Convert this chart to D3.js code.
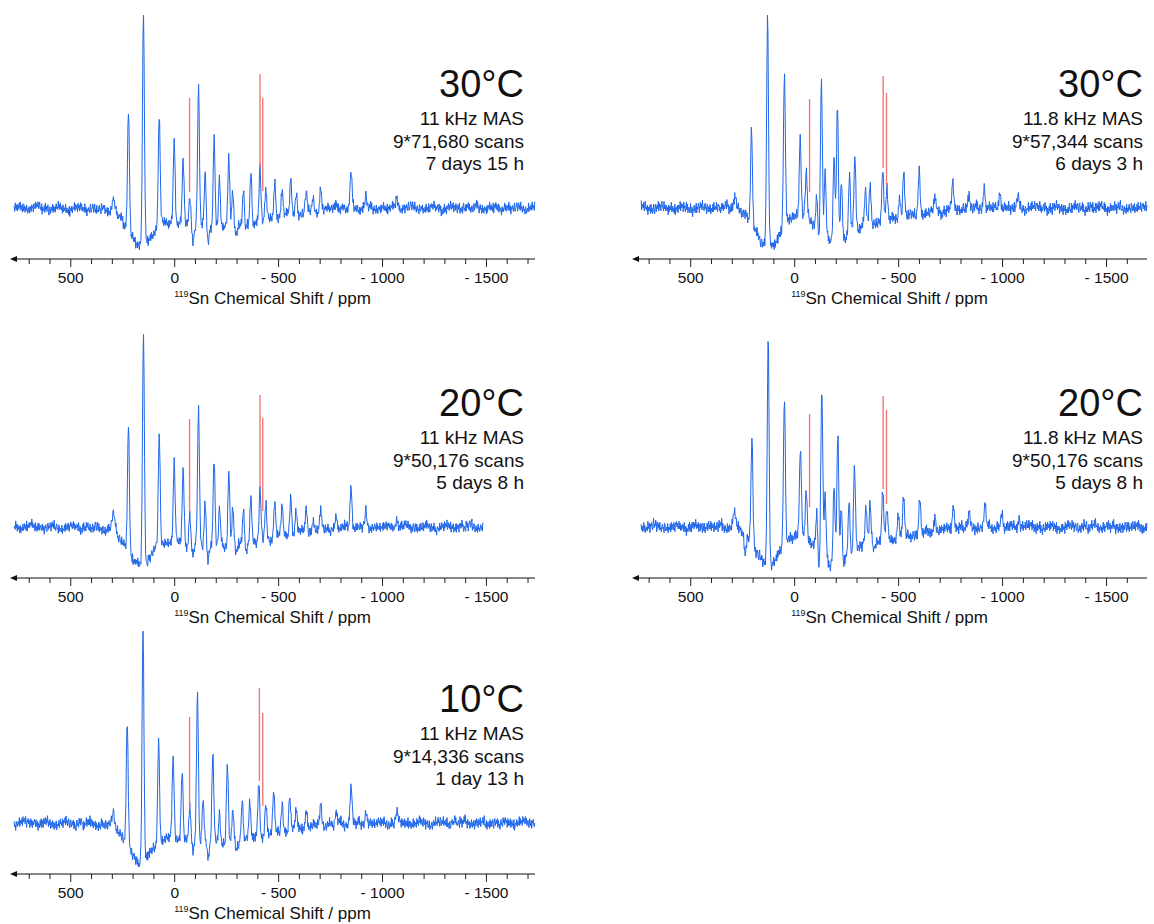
<!DOCTYPE html>
<html>
<head>
<meta charset="utf-8">
<script src="https://cdn.jsdelivr.net/npm/d3@7"></script>
<style>
  body { margin: 0; background: #fff; }
  svg { display: block; }
  text { font-family: "Liberation Sans", Arial, sans-serif; fill: #111; }
</style>
</head>
<body>
<svg id="fig" width="1154" height="924"></svg>
<script>
// ---- Panel annotations ----
const panelTitles = ["30°C", "30°C", "20°C", "20°C", "10°C"];
const panelSpin   = ["11 kHz MAS", "11.8 kHz MAS", "11 kHz MAS", "11.8 kHz MAS", "11 kHz MAS"];
const panelScans  = ["9*71,680 scans", "9*57,344 scans", "9*50,176 scans", "9*50,176 scans", "9*14,336 scans"];
const panelTime   = ["7 days 15 h", "6 days 3 h", "5 days 8 h", "5 days 8 h", "1 day 13 h"];
const axisTitle   = ["119", "Sn Chemical Shift / ppm"];
const tickLabels  = [500, 0, -500, -1000, -1500];

// ---- Spectral windows (ppm) ----
const axisRange = [[790, -1736], [780, -1697], [790, -1736], [780, -1697], [790, -1736]];
const acqRange  = [[770, -1736], [736, -1697], [770, -1486], [736, -1697], [770, -1736]];

// ---- Sideband manifolds: [shift ppm, intensity (a.u.), optional width ppm] ----
const sb30_11 = [[293,14,7],[220,124],[148,230],[72,110],[0,85],[-43,63],[-75,30],[-117,139],[-149,53],
  [-192,89],[-218,48],[-263,68],[-282,37],[-333,35],[-369,52],[-413,54],[-441,31],[-484,38],[-519,27],
  [-561,36],[-587,20],[-635,20],[-668,15],[-705,23],[-779,10],[-851,36],[-923,13],[-1071,10],
  [-91,-12],[-163,-15],[-298,-8],[-345,-6]];
const sb30_118 = [[285,14,7],[205,95],[128,229],[47,151],[-29,78],[-58,45],[-109,35],[-131,155],[-149,63],
  [-192,88],[-208,138],[-227,57],[-266,58],[-292,74],[-343,34],[-365,35],[-426,50],[-446,33],[-508,22],
  [-527,46],[-601,45],[-678,15],[-763,27],[-841,13],[-914,22],[-990,17],[-1077,12],[-120,-14]];
const sb20_11 = [[293,19,7],[220,125],[148,233],[72,110],[0,80],[-43,74],[-75,30],[-117,137],[-149,45],
  [-192,88],[-218,37],[-263,76],[-282,38],[-333,35],[-369,44],[-413,50],[-441,35],[-484,35],[-519,29],
  [-561,36],[-587,23],[-635,24],[-668,12],[-705,17],[-779,10],[-851,42],[-923,15],[-1071,8],
  [-91,-12],[-163,-15],[-298,-8],[-345,-6]];
const sb20_118 = [[287,15,7],[236,-18],[203,105],[125,229],[47,148],[-30,84],[-58,47],[-109,37],[-133,165],
  [-149,63],[-192,79],[-210,133],[-227,56],[-264,55],[-290,87],[-346,38],[-365,42],[-385,-8],[-426,50],
  [-446,32],[-501,24],[-526,39],[-604,36],[-678,17],[-766,24],[-841,13],[-918,24],[-999,12],[-1082,10],
  [-119,-23],[-236,-8]];
const sb10_11 = [[293,17,7],[226,124],[150,233],[75,101],[5,80],[-38,72],[-75,33],[-112,149],[-139,43],
  [-186,89],[-218,30],[-256,79],[-282,30],[-327,40],[-364,40],[-407,53],[-441,35],[-479,41],[-519,29],
  [-556,35],[-587,18],[-635,20],[-705,22],[-779,12],[-851,38],[-923,12],[-1071,10],
  [-91,-12],[-163,-15],[-298,-8]];

// ---- Broad baseline distortion: [centre ppm, depth (a.u.), width ppm] ----
const broad30_11  = [[165,-30,55],[-200,-20,250]];
const broad30_118 = [[125,-38,60],[-190,-25,70],[-350,-14,200]];
const broad20_11  = [[165,-32,55],[-200,-20,250]];
const broad20_118 = [[125,-38,60],[-190,-27,70],[-350,-15,200]];
const broad10_11  = [[165,-33,55],[-200,-20,250]];

// ---- Reference positions (red sticks): [ppm, top a.u., bottom a.u.] ----
const red30_11  = [[-74,110,16],[-413,134,41],[-426,110,17]];
const red30_118 = [[-74,109,16],[-428,132,40],[-444,115,23]];
const red20_11  = [[-74,108,15],[-413,132,40],[-426,109,16]];
const red20_118 = [[-74,113,20],[-428,131,38],[-444,117,23]];
const red10_11  = [[-74,106,14],[-410,135,42],[-426,110,17]];

// ---- Baseline noise trace (a.u.) ----
const baselineNoise = [
  1,-2,3,0,-1,2,-3,1,0,-2,2,-1,3,-2,0,1,-3,2,-1,0,
  2,-2,1,-1,3,0,-2,1,-1,2,-3,0,1,-2,2,1,-1,-3,2,0,
  -1,3,-2,1,0,-1,2,-2,1,3,-1,0,-2,2,-3,1,-1,0,2,-2,
  3,-1,1,-2,0,2,-1,-3,1,2,-2,0,1,-1,3,-2,2,-1,0,-3,
  1,2,-1,0,-2,3,-1,1,-2,2,0,-1,1,-3,2,-2,1,0,-1,3,
  -2,0,2,-1,1,-2,3,-3,0,1,-1,2,-2,1,0,-1,3,-2,2,-1,
  0,1,-3,2,-1,1,-2,0,3,-1,2,-2,0,1,-1,-2,3,0,-1,2,
  -3,1,0,2,-1,-2,1,3,-2,0,-1,2,1,-3,0,2,-1,1,-2,3,
  -1,0,-2,1,2,-1,0,-3,2,1,-2,0,1,-1,3,-2,1,0,-1,2,
  -2,3,-1,0,1,-2,2,-1,-3,1,0,2,-1,1,-2,0,3,-1,2,-2,
  1,-1,0,2];
// slower baseline roll (a.u.), one value per ~15 ppm
const baselineRoll = [0,2,1,-1,-2,0,1,3,1,-1,0,-2,-1,1,2,0,-1,-3,-1,1,2,1,0,-2,0,2,-1,1,3,0,-2,-1,1,0,2,-1,-2,0,1,-1];

const spectra = [
  {sb: sb30_11,  broad: broad30_11,  red: red30_11},
  {sb: sb30_118, broad: broad30_118, red: red30_118},
  {sb: sb20_11,  broad: broad20_11,  red: red20_11},
  {sb: sb20_118, broad: broad20_118, red: red20_118},
  {sb: sb10_11,  broad: broad10_11,  red: red10_11}
];

// ---- Layout of the five panels ----
const frames = [
  {x0: 10,  x1: 535,  axisY: 259, baseY: 208, textX: 524,  noise: 1.7},
  {x0: 632, x1: 1147, axisY: 259, baseY: 208, textX: 1143, noise: 1.9},
  {x0: 10,  x1: 535,  axisY: 578, baseY: 527, textX: 524,  noise: 1.7},
  {x0: 632, x1: 1147, axisY: 578, baseY: 527, textX: 1143, noise: 1.9},
  {x0: 10,  x1: 535,  axisY: 874, baseY: 823, textX: 524,  noise: 1.8}
];

const LINE_SIGMA = 4.5;   // ppm, sideband line width
const STEP = 2.5;         // ppm, digitisation step
const BLUE = "#1f66ea";
const RED = "#f07878";

const svg = d3.select("#fig");
svg.append("rect").attr("width", 1154).attr("height", 924).attr("fill", "#fff");

function buildTrace(spec, range, offset, noiseLevel) {
  const pts = [];
  let i = 0;
  for (let p = range[0]; p >= range[1]; p -= STEP, i++) {
    let v = 0;
    for (const [c, a, w] of spec.sb) {
      const s = w || LINE_SIGMA;
      const d = p - c;
      if (Math.abs(d) < 8 * s) v += a * Math.exp(-d * d / (2 * s * s));
    }
    for (const [c, a, w] of spec.broad) {
      const d = p - c;
      v += a * Math.exp(-d * d / (2 * w * w));
    }
    v += noiseLevel * baselineNoise[(i + offset) % baselineNoise.length];
    v += baselineRoll[(Math.floor(i / 6) + offset) % baselineRoll.length];
    pts.push([p, v]);
  }
  return pts;
}

const fmt = d => d > 0 ? String(d) : d === 0 ? "0" : "- " + (-d);

frames.forEach((f, k) => {
  const spec = spectra[k];
  const x = d3.scaleLinear().domain(axisRange[k]).range([f.x0, f.x1]);
  const y = d3.scaleLinear().domain([0, 200]).range([f.baseY, f.baseY - 200]);
  const g = svg.append("g");

  // spectrum
  const trace = buildTrace(spec, acqRange[k], k * 41, f.noise);
  g.append("path")
    .datum(trace)
    .attr("fill", "none")
    .attr("stroke", BLUE)
    .attr("stroke-width", 1)
    .attr("stroke-linejoin", "round")
    .attr("d", d3.line().x(d => x(d[0])).y(d => y(d[1])));

  // reference sticks
  g.selectAll("line.ref").data(spec.red).join("line")
    .attr("class", "ref")
    .attr("x1", d => x(d[0])).attr("x2", d => x(d[0]))
    .attr("y1", d => y(d[1])).attr("y2", d => y(d[2]))
    .attr("stroke", RED).attr("stroke-width", 1.4);

  // axis
  const lo = axisRange[k][1], hi = axisRange[k][0];
  const minor = d3.range(-1700, 800, 100).filter(t => t <= hi && t >= lo && t % 500 !== 0);
  const ax = g.append("g").attr("transform", `translate(0,${f.axisY})`);
  ax.append("g").call(d3.axisBottom(x).tickValues(minor).tickSize(5).tickSizeOuter(0).tickFormat(""))
    .call(s => s.select(".domain").remove());
  ax.append("g").call(d3.axisBottom(x).tickValues(tickLabels).tickSize(8).tickSizeOuter(0).tickPadding(5).tickFormat(fmt))
    .call(s => s.select(".domain").remove())
    .call(s => s.selectAll("text").attr("font-size", 15.5).attr("fill", "#111")
      .style("font-family", '"Liberation Sans", Arial, sans-serif'));
  ax.selectAll(".tick line").attr("stroke", "#222");
  ax.append("line").attr("x1", f.x0 + 2).attr("x2", f.x1).attr("stroke", "#111").attr("stroke-width", 1);
  ax.append("path")
    .attr("d", `M${f.x0},0 L${f.x0 + 7},-3 L${f.x0 + 7},3 Z`)
    .attr("fill", "#111");

  // axis title
  const t = g.append("text")
    .attr("x", (f.x0 + f.x1) / 2).attr("y", f.axisY + 45)
    .attr("text-anchor", "middle").attr("font-size", 17);
  t.append("tspan").attr("font-size", 9).attr("dy", -7).text(axisTitle[0]);
  t.append("tspan").attr("dy", 7).text(axisTitle[1]);

  // annotations
  const lines = [
    [panelTitles[k], -162, 38],
    [panelSpin[k], -134.5, 19],
    [panelScans[k], -111.5, 19],
    [panelTime[k], -89.5, 19]
  ];
  g.selectAll("text.note").data(lines).join("text")
    .attr("class", "note")
    .attr("x", f.textX).attr("y", d => f.axisY + d[1])
    .attr("text-anchor", "end").attr("font-size", d => d[2])
    .text(d => d[0]);
});
</script>
</body>
</html>
